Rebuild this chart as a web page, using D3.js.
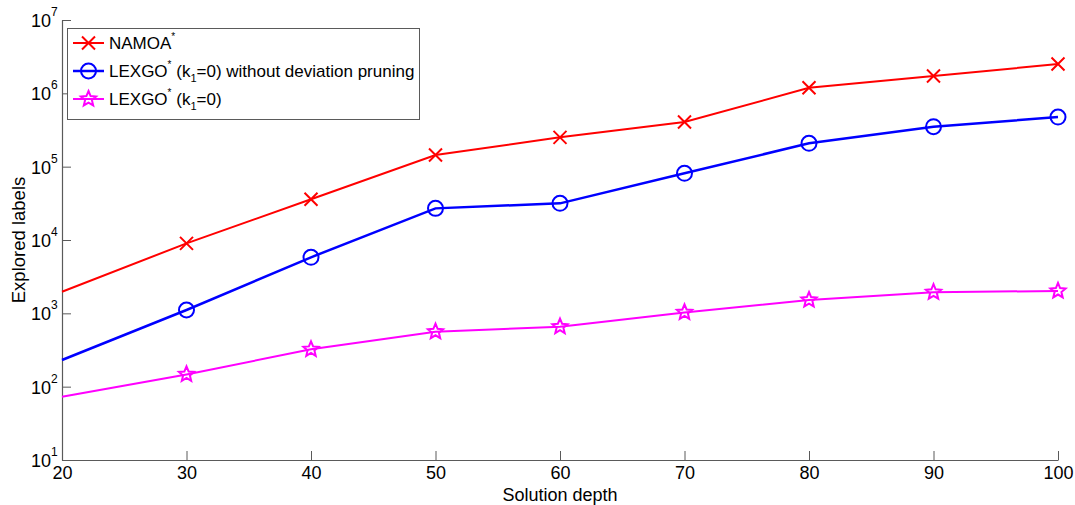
<!DOCTYPE html>
<html>
<head>
<meta charset="utf-8">
<script src="https://cdn.jsdelivr.net/npm/d3@7"></script>
<style>
  html, body { margin: 0; padding: 0; background: #fff; }
  svg { display: block; font-family: Arial, "Liberation Sans", sans-serif; }
</style>
</head>
<body>
<svg id="chart" width="1075" height="505"></svg>
<script>
// ---- data ----
const depths = [20, 30, 40, 50, 60, 70, 80, 90, 100];
const namoa = [1970, 9000, 35900, 144000, 251000, 406000, 1190000, 1720000, 2510000];
const lexgoNoPrune = [231, 1110, 5810, 27000, 31600, 81200, 208000, 351000, 475000];
const lexgo = [73, 147, 323, 562, 658, 1030, 1520, 1940, 2020];
const xTicks = [20, 30, 40, 50, 60, 70, 80, 90, 100];
const yTickExps = [1, 2, 3, 4, 5, 6, 7];

const series = [
  { values: namoa, color: "#ff0000", marker: "x", width: 2 },
  { values: lexgoNoPrune, color: "#0000ff", marker: "o", width: 2.5 },
  { values: lexgo, color: "#ff00ff", marker: "star", width: 2 }
];

const svg = d3.select("#chart");
const mLeft = 62, mRight = 1058, mTop = 20, mBottom = 460;
const x = d3.scaleLinear().domain([20, 100]).range([mLeft, mRight]);
const y = d3.scaleLog().domain([10, 1e7]).range([mBottom, mTop]);
const axisColor = "#5a5a5a";

// axes
const xAxis = svg.append("g").attr("transform", `translate(0,${mBottom})`)
  .call(d3.axisBottom(x).tickValues(xTicks).tickSize(-9).tickSizeOuter(0).tickPadding(7).tickFormat(d3.format("d")));
const yAxis = svg.append("g").attr("transform", `translate(${mLeft},0)`)
  .call(d3.axisLeft(y).tickValues(yTickExps.map(e => Math.pow(10, e))).tickSize(-9).tickSizeOuter(0).tickFormat(""));
[xAxis, yAxis].forEach(g => {
  g.select(".domain").attr("stroke", axisColor).attr("stroke-width", 1.2);
  g.selectAll(".tick line").attr("stroke", axisColor).attr("stroke-width", 1);
});
xAxis.selectAll(".tick text").attr("font-size", 18).attr("fill", "#000")
  .attr("font-family", "Arial, 'Liberation Sans', sans-serif").attr("dy", "0.68em");

// y tick labels 10^e
yTickExps.forEach(e => {
  const yy = y(Math.pow(10, e));
  svg.append("text").attr("x", 51).attr("y", yy + 7)
    .attr("text-anchor", "end").attr("font-size", 18).attr("fill", "#000").text("10");
  svg.append("text").attr("x", 51).attr("y", yy - 4)
    .attr("font-size", 12).attr("fill", "#000").text(e);
});

// axis titles
svg.append("text").attr("x", (mLeft + mRight) / 2).attr("y", 501)
  .attr("text-anchor", "middle").attr("font-size", 18).text("Solution depth");
svg.append("text").attr("transform", `translate(25,${(mTop + mBottom) / 2}) rotate(-90)`)
  .attr("text-anchor", "middle").attr("font-size", 18.5).text("Explored labels");

// markers
const starPath = (() => {
  const pts = [];
  for (let i = 0; i < 10; i++) {
    const r = i % 2 === 0 ? 8 : 3.6;
    const a = -Math.PI / 2 + i * Math.PI / 5;
    pts.push([r * Math.cos(a), r * Math.sin(a)]);
  }
  return "M" + pts.map(p => p.join(",")).join("L") + "Z";
})();
function drawMarker(g, type, cx, cy, color) {
  if (type === "x") {
    g.append("path").attr("d", `M${cx-6.5},${cy-6.5}L${cx+6.5},${cy+6.5}M${cx-6.5},${cy+6.5}L${cx+6.5},${cy-6.5}`)
      .attr("stroke", color).attr("stroke-width", 2).attr("fill", "none");
  } else if (type === "o") {
    g.append("circle").attr("cx", cx).attr("cy", cy).attr("r", 7.5)
      .attr("stroke", color).attr("stroke-width", 2).attr("fill", "none");
  } else {
    g.append("path").attr("d", starPath).attr("transform", `translate(${cx},${cy})`)
      .attr("stroke", color).attr("stroke-width", 2).attr("fill", "none");
  }
}

const line = d3.line().x((d, i) => x(depths[i])).y(d => y(d));
series.forEach(s => {
  const g = svg.append("g");
  g.append("path").datum(s.values).attr("d", line)
    .attr("fill", "none").attr("stroke", s.color).attr("stroke-width", s.width);
  s.values.forEach((v, i) => {
    if (i === 0) return;
    drawMarker(g, s.marker, x(depths[i]), y(v), s.color);
  });
});

// legend
const lg = svg.append("g");
lg.append("rect").attr("x", 67.5).attr("y", 28.5).attr("width", 352).attr("height", 91)
  .attr("fill", "#fff").attr("stroke", axisColor).attr("stroke-width", 1);
const rowsY = [43, 71, 99];
const labelParts = [
  [["NAMOA", null], ["*", "sup"]],
  [["LEXGO", null], ["*", "sup"], [" (k", null], ["1", "sub"], ["=0) without deviation pruning", null]],
  [["LEXGO", null], ["*", "sup"], [" (k", null], ["1", "sub"], ["=0)", null]]
];
series.forEach((s, i) => {
  const ry = rowsY[i];
  lg.append("line").attr("x1", 73).attr("x2", 104).attr("y1", ry).attr("y2", ry)
    .attr("stroke", s.color).attr("stroke-width", s.width);
  drawMarker(lg, s.marker, 88.5, ry, s.color);
  const t = lg.append("text").attr("x", 109).attr("y", ry + 6).attr("font-size", 17);
  const parts = labelParts[i];
  parts.forEach(([txt, kind], j) => {
    const ts = t.append("tspan").text(txt);
    let dy = 0;
    if (j > 0) {
      const prev = parts[j - 1][1];
      if (prev === "sup") dy += 9;
      if (prev === "sub") dy -= 5;
    }
    if (kind === "sup") { dy -= 9; ts.attr("font-size", 10); }
    if (kind === "sub") { dy += 5; ts.attr("font-size", 11); }
    ts.attr("dy", dy);
  });
});
</script>
</body>
</html>
